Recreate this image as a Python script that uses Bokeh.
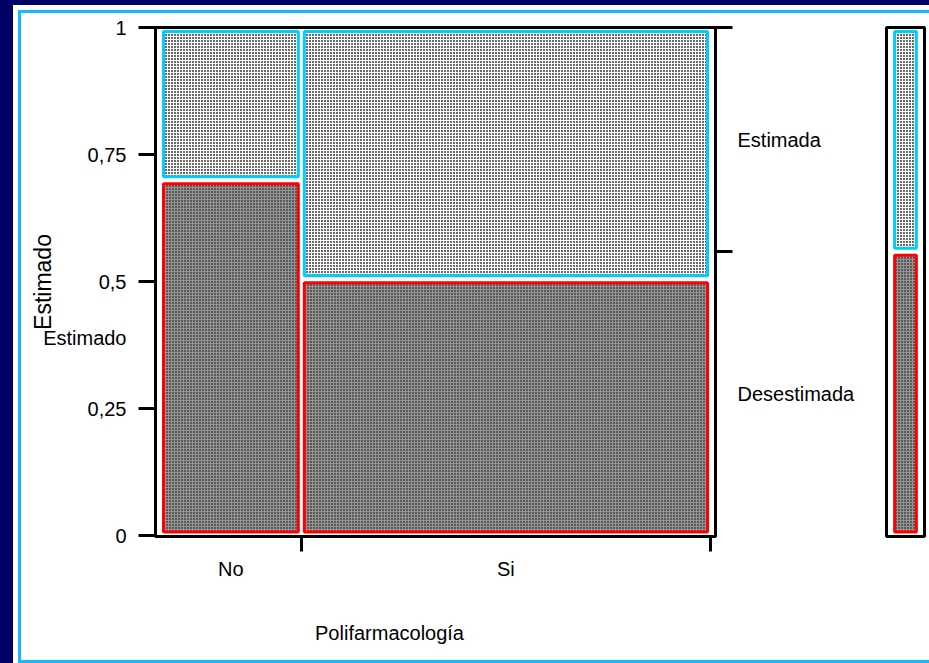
import math
from bokeh.plotting import figure
from bokeh.models import Range1d, FixedTicker, LinearAxis
from bokeh.layouts import row
from bokeh.embed import file_html
from bokeh.resources import INLINE

# ---------------- data ----------------
polifarm = ["No", "Si"]
polifarm_share = [0.256, 0.744]          # column widths (share of patients)
desestimada_share = [0.70, 0.505]        # share "Desestimada" within each column
estimado_levels = ["Desestimada", "Estimada"]
overall_desestimada = 0.559              # marginal bar
y_ticks = [0, 0.25, 0.5, 0.75, 1]
y_tick_labels = ["0", "0,25", "0,5", "0,75", "1"]
y_title = "Estimado"
x_title = "Polifarmacología"

# ---------------- style ----------------
FONT = "Liberation Sans"
FS = "20px"
NAVY = "#000066"
PANEL = "#1ab8ff"
CYAN = "#00ccff"
RED = "#ff0000"
DARK_FILL = "#959595"
LIGHT_FILL = "#6a6a6a"

WA, HA = 855, 647
FRAME_W, FRAME_H = 560, 509
MBL, MBT = 134, 14
MBR = WA - MBL - FRAME_W
MBB = HA - MBT - FRAME_H

x_lo, x_hi = -5 / 550, 555 / 550
y_lo, y_hi = -1 / 508, 1 + 0.5 / 508
gx = 3.0 / 550
gy = 3.5 / 508

pa = figure(width=WA, height=HA, output_backend="svg", toolbar_location=None,
            x_range=Range1d(x_lo, x_hi), y_range=Range1d(y_lo, y_hi),
            min_border_left=MBL, min_border_right=MBR,
            min_border_top=MBT, min_border_bottom=MBB,
            x_axis_location=None, y_axis_location=None)
pa.grid.visible = False
pa.background_fill_color = "white"
pa.border_fill_color = "white"
pa.outline_line_color = "black"
pa.outline_line_width = 3

# mosaic rectangles
lefts, rights = [], []
acc = 0.0
for s in polifarm_share:
    lefts.append(acc)
    rights.append(acc + s)
    acc += s

for i in range(len(polifarm)):
    d = desestimada_share[i]
    pa.quad(left=lefts[i] + gx, right=rights[i] - gx, bottom=0 + gy, top=d - gy,
            fill_color=DARK_FILL, line_color=RED, line_width=3,
            hatch_pattern="dot", hatch_color="black", hatch_scale=3, hatch_weight=1)
    pa.quad(left=lefts[i] + gx, right=rights[i] - gx, bottom=d + gy, top=1 - gy,
            fill_color=LIGHT_FILL, line_color=CYAN, line_width=3,
            hatch_pattern="cross", hatch_color="white", hatch_scale=3, hatch_weight=1)

common = dict(axis_line_width=3, axis_line_color="black",
              major_label_text_font=FONT, major_label_text_font_size=FS,
              major_label_text_color="black")

# left axis: numeric ticks (drawn as minor ticks) + the stray horizontal "Estimado"
est_pos = 0.39
left_major = y_ticks + [est_pos]
left_labels = {t: l for t, l in zip(y_ticks, y_tick_labels)}
left_labels[est_pos] = y_title
left_ax = LinearAxis(ticker=FixedTicker(ticks=left_major, minor_ticks=y_ticks),
                     major_label_overrides=left_labels,
                     major_tick_in=0, major_tick_out=17, major_tick_line_color=None,
                     minor_tick_in=0, minor_tick_out=17, minor_tick_line_width=3,
                     minor_tick_line_color="black", major_label_standoff=12,
                     axis_label=y_title, axis_label_standoff=-16,
                     axis_label_text_font=FONT, axis_label_text_font_size="23px",
                     axis_label_text_font_style="normal", axis_label_text_color="black",
                     **common)
pa.add_layout(left_ax, "left")

centers = [(lefts[i] + rights[i]) / 2 for i in range(len(polifarm))]
bottom_ax = LinearAxis(ticker=FixedTicker(ticks=centers, minor_ticks=rights),
                       major_label_overrides={c: n for c, n in zip(centers, polifarm)},
                       major_tick_in=0, major_tick_out=0, major_tick_line_color=None,
                       minor_tick_in=0, minor_tick_out=15, minor_tick_line_width=3,
                       minor_tick_line_color="black", major_label_standoff=6, **common)
pa.add_layout(bottom_ax, "below")

# x title as a second, line-less bottom axis
xt_pos = 0.4164
title_ax = LinearAxis(ticker=FixedTicker(ticks=[xt_pos], minor_ticks=[]),
                      major_label_overrides={xt_pos: x_title},
                      axis_line_color=None, major_tick_line_color=None,
                      minor_tick_line_color=None, major_tick_out=0, major_tick_in=0,
                      major_label_standoff=39, major_label_text_font=FONT,
                      major_label_text_font_size=FS, major_label_text_color="black")
pa.add_layout(title_ax, "below")

r_bounds = [overall_desestimada, 1.0]
r_centers = [overall_desestimada / 2, (overall_desestimada + 1) / 2]
right_ax = LinearAxis(ticker=FixedTicker(ticks=r_centers, minor_ticks=r_bounds),
                      major_label_overrides={c: n for c, n in zip(r_centers, estimado_levels)},
                      major_tick_in=0, major_tick_out=0, major_tick_line_color=None,
                      minor_tick_in=0, minor_tick_out=17, minor_tick_line_width=3,
                      minor_tick_line_color="black", major_label_standoff=5, **common)
pa.add_layout(right_ax, "right")

# marginal bar
WB = 53
bx_lo, bx_hi = -0.25, 1.25
bgx = 1.8 * (bx_hi - bx_lo) / 38
pb = figure(width=WB, height=HA, output_backend="svg", toolbar_location=None,
            x_range=Range1d(bx_lo, bx_hi), y_range=pa.y_range,
            min_border_left=10, min_border_right=5,
            min_border_top=MBT, min_border_bottom=MBB,
            x_axis_location=None, y_axis_location=None)
pb.grid.visible = False
pb.border_fill_color = "white"
pb.outline_line_color = "black"
pb.outline_line_width = 3
pb.quad(left=0 + bgx, right=1 - bgx, bottom=0 + gy, top=overall_desestimada - gy,
        fill_color=DARK_FILL, line_color=RED, line_width=3,
        hatch_pattern="dot", hatch_color="black", hatch_scale=3, hatch_weight=1)
pb.quad(left=0 + bgx, right=1 - bgx, bottom=overall_desestimada + gy, top=1 - gy,
        fill_color=LIGHT_FILL, line_color=CYAN, line_width=3,
        hatch_pattern="cross", hatch_color="white", hatch_scale=3, hatch_weight=1)

layout = row(pa, pb, margin=(10, 0, 0, 18),
             styles={"border-left": f"3px solid {PANEL}",
                     "border-top": f"3px solid {PANEL}",
                     "border-bottom": f"3px solid {PANEL}",
                     "outline": "5px solid white",
                     "background-color": "white"})

html = file_html(layout, INLINE, title="Mosaico")
style = f"<style>html, body {{ background-color: {NAVY} !important; }}</style>"
idx = html.rfind("</head>")
if idx >= 0:
    html = html[:idx] + style + html[idx:]
open("out.html", "w").write(html)
